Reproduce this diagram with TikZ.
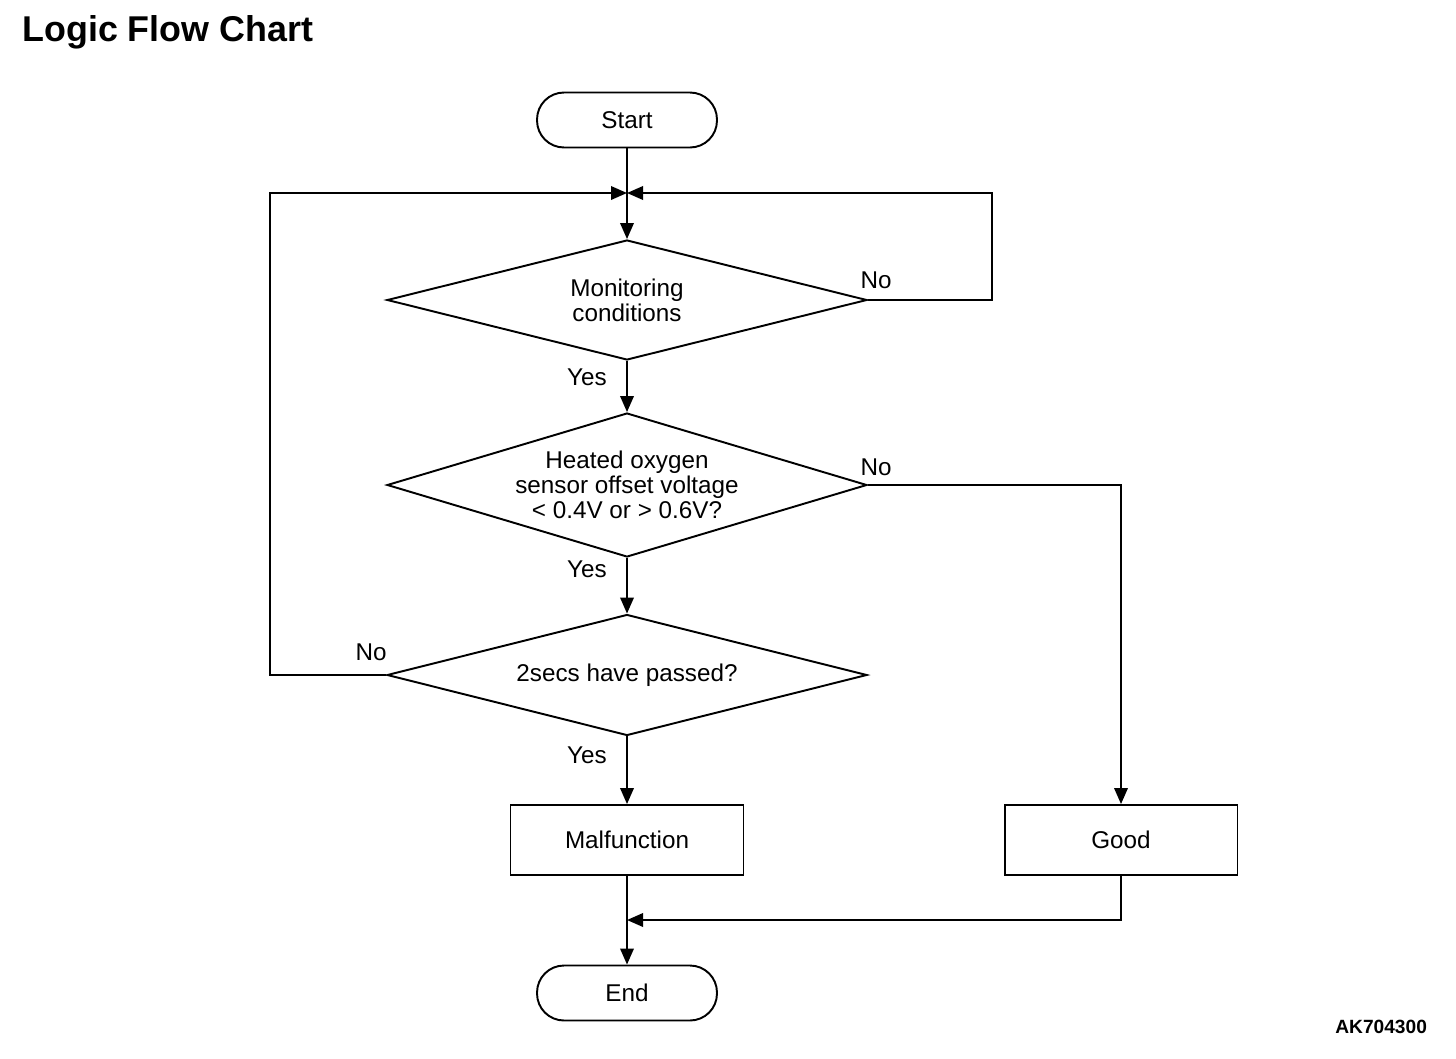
\documentclass[tikz,border=0pt]{standalone}
\usepackage{fontspec}
\setmainfont{Liberation Sans}
\usetikzlibrary{shapes.geometric,arrows.meta}
\tikzset{
  flow/.style={line width=1.1pt,-{Triangle[length=0.32cm,width=0.27cm]}},
  line/.style={line width=1.1pt},
  term/.style={draw,line width=1.1pt,rounded corners=0.54cm,minimum width=3.6cm,minimum height=1.1cm,inner sep=0pt},
  decide/.style={draw,line width=1.1pt,diamond,aspect=3.3,inner sep=0pt,minimum width=9.6cm,align=center},
  stepbox/.style={draw,line width=1.1pt,minimum width=4.66cm,minimum height=1.4cm,inner sep=0pt},
  lbl/.style={inner sep=0pt}
}
\begin{document}
\begin{tikzpicture}[x=0.02cm,y=-0.02cm,font=\fontsize{13.8}{14.2}\selectfont]
    \useasboundingbox (0,0) rectangle (1456,1058);
    \node[lbl,anchor=base west,font=\fontsize{20.4}{22}\selectfont\bfseries] (title) at (22,41) {Logic Flow Chart};
    \node[lbl,anchor=base west,font=\fontsize{10.9}{12}\selectfont\bfseries] (code) at (1335,1033) {AK704300};
    % blocks
    \node[term] (start) at (627,120) {Start};
    \node[decide,minimum height=2.4cm] (mon) at (627,300) {Monitoring\\conditions};
    \node[decide,minimum height=2.88cm] (heat) at (627,485) {Heated oxygen\\sensor offset voltage\\< 0.4V or > 0.6V?};
    \node[decide,minimum height=2.42cm] (secs) at (627,675) {2secs have passed?};
    \node[stepbox] (mal) at (627,840) {Malfunction};
    \node[stepbox] (good) at (1121,840) {Good};
    \node[term] (end) at (627,993) {End};
    \coordinate (join) at (627,193);
    \coordinate (merge) at (627,920);
    % connectors
    \draw[line] (start) -- (join);
    \draw[flow] (join) -- (mon.north);
    \draw[flow] (mon.east) -- (992,300) -- (992,193) -- (join);
    \draw[flow] (secs.west) -- (270,675) -- (270,193) -- (join);
    \draw[flow] (mon.south) -- (heat.north);
    \draw[flow] (heat.south) -- (secs.north);
    \draw[flow] (heat.east) -| (good.north);
    \draw[flow] (secs.south) -- (mal.north);
    \draw[flow] (mal.south) -- (end.north);
    \draw[flow] (good.south) |- (merge);
    % labels
    \node[lbl] (no1) at (876,280) {No};
    \node[lbl] (yes1) at (587,377) {Yes};
    \node[lbl] (no2) at (876,467) {No};
    \node[lbl] (yes2) at (587,569) {Yes};
    \node[lbl] (no3) at (371,652) {No};
    \node[lbl] (yes3) at (587,755) {Yes};
\end{tikzpicture}
\end{document}
